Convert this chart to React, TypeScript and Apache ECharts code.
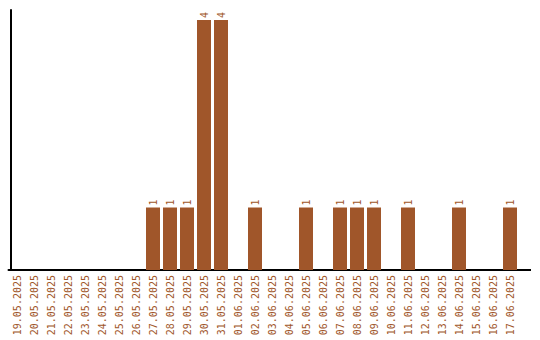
import React, { useEffect, useRef } from "react";
import * as echarts from "echarts";

const categories = [
  "19.05.2025", "20.05.2025", "21.05.2025", "22.05.2025", "23.05.2025",
  "24.05.2025", "25.05.2025", "26.05.2025", "27.05.2025", "28.05.2025",
  "29.05.2025", "30.05.2025", "31.05.2025", "01.06.2025", "02.06.2025",
  "03.06.2025", "04.06.2025", "05.06.2025", "06.06.2025", "07.06.2025",
  "08.06.2025", "09.06.2025", "10.06.2025", "11.06.2025", "12.06.2025",
  "13.06.2025", "14.06.2025", "15.06.2025", "16.06.2025", "17.06.2025",
];
const counts = [
  0, 0, 0, 0, 0, 0, 0, 0, 1, 1,
  1, 4, 4, 0, 1, 0, 0, 1, 0, 1,
  1, 1, 0, 1, 0, 0, 1, 0, 0, 1,
];

const BROWN = "#A0562A";

export default function App() {
  const ref = useRef<HTMLDivElement>(null);
  useEffect(() => {
    if (!ref.current) return;
    const chart = echarts.init(ref.current, undefined, { renderer: "svg" });
    chart.setOption({
      animation: false,
      grid: { left: 8.5, width: 510, top: 10, bottom: 70, containLabel: false },
      graphic: [
        {
          type: "line",
          shape: { x1: 518, y1: 270, x2: 531, y2: 270 },
          style: { stroke: "#000", lineWidth: 2 },
        },
      ],
      xAxis: {
        type: "category",
        data: categories,
        axisLine: { lineStyle: { color: "#000", width: 2 } },
        axisTick: { show: false },
        axisLabel: {
          rotate: 90,
          interval: 0,
          color: BROWN,
          fontFamily: "DejaVu Sans Mono",
          fontSize: 10,
          margin: 5,
        },
      },
      yAxis: {
        type: "value",
        min: 0,
        max: 4.16,
        offset: -2,
        axisLine: { show: true, lineStyle: { color: "#000", width: 2 } },
        axisTick: { show: false },
        axisLabel: { show: false },
        splitLine: { show: false },
      },
      series: [
        {
          type: "bar",
          data: counts.map((v) => (v === 0 ? null : v)),
          barWidth: 14,
          itemStyle: { color: BROWN },
          label: {
            show: true,
            position: "top",
            rotate: 90,
            align: "left",
            verticalAlign: "middle",
            distance: 2,
            color: BROWN,
            fontFamily: "DejaVu Sans Mono",
            fontSize: 10,
          },
        },
      ],
    });
    return () => chart.dispose();
  }, []);
  return <div ref={ref} style={{ width: 540, height: 340, position: "absolute", left: 0, top: 0 }} />;
}
